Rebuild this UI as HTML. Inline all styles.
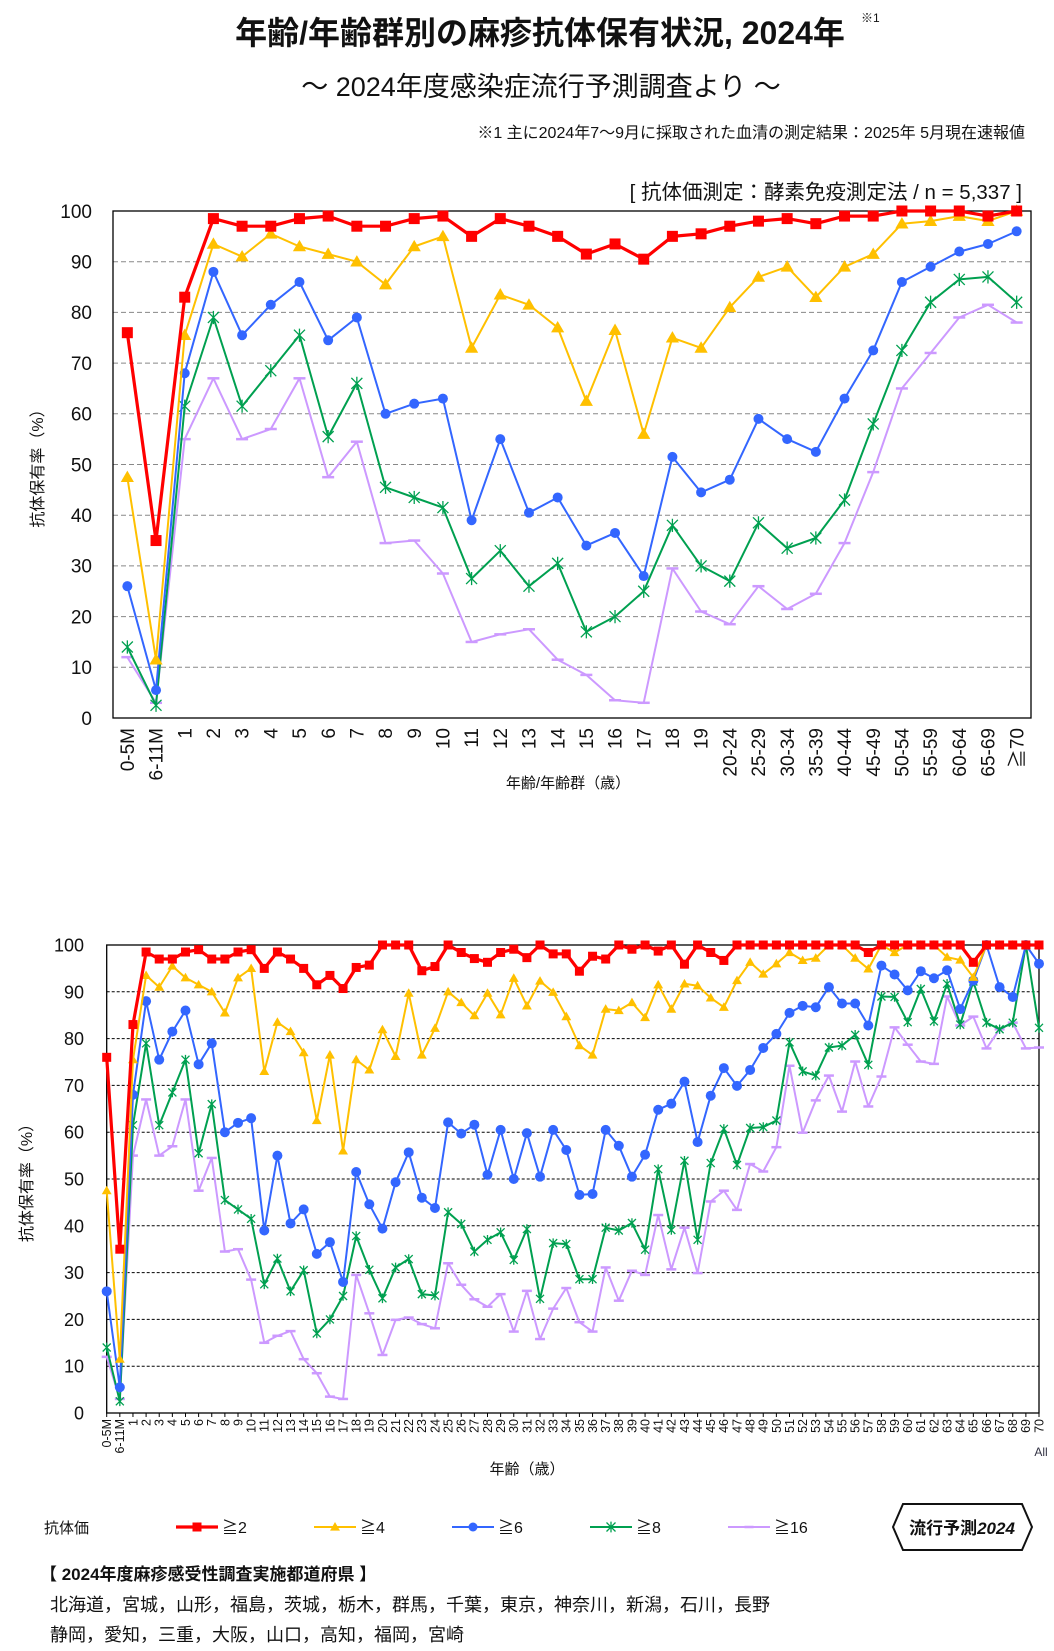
<!DOCTYPE html>
<html><head><meta charset="utf-8"><style>
html,body{margin:0;padding:0;background:#fff}
svg{display:block;font-family:"Liberation Sans","Noto Sans CJK JP",sans-serif}
</style></head><body>
<svg id="s" width="1054" height="1651" viewBox="0 0 1054 1651" xmlns="http://www.w3.org/2000/svg">
<text x="540" y="44" text-anchor="middle" font-size="32" font-weight="bold" fill="#111">年齢/年齢群別の麻疹抗体保有状況, 2024年</text>
<text x="861" y="22" font-size="12" fill="#111">※1</text>
<text x="541" y="96" text-anchor="middle" font-size="27" fill="#111">～ 2024年度感染症流行予測調査より ～</text>
<text x="1025" y="138" text-anchor="end" font-size="16" fill="#111">※1  主に2024年7～9月に採取された血清の測定結果：2025年 5月現在速報値</text>
<text x="1022" y="199" text-anchor="end" font-size="20.5" fill="#111">[ 抗体価測定：酵素免疫測定法 / n = 5,337 ]</text>
<g id="top"></g>
<g id="bot"></g>
<g id="legend">
<text x="44" y="1533" font-size="15" fill="#111">抗体価</text>
</g>
<g>
<polygon points="903,1504 1022,1504 1032,1527 1022,1550 903,1550 893,1527" fill="#fff" stroke="#111" stroke-width="2"/>
<text x="962" y="1534" text-anchor="middle" font-size="17" font-weight="bold" fill="#111">流行予測<tspan font-style="italic">2024</tspan></text>
</g>
<text x="40" y="1580" font-size="17" font-weight="bold" fill="#111">【 2024年度麻疹感受性調査実施都道府県 】</text>
<text x="50" y="1611" font-size="18" fill="#111">北海道，宮城，山形，福島，茨城，栃木，群馬，千葉，東京，神奈川，新潟，石川，長野</text>
<text x="50" y="1641" font-size="18" fill="#111">静岡，愛知，三重，大阪，山口，高知，福岡，宮崎</text>
</svg>
<script>
const topCats=["0-5M","6-11M","1","2","3","4","5","6","7","8","9","10","11","12","13","14","15","16","17","18","19","20-24","25-29","30-34","35-39","40-44","45-49","50-54","55-59","60-64","65-69","≧70"];
const top2=[76,35,83,98.5,97,97,98.5,99,97,97,98.5,99,95,98.5,97,95,91.5,93.5,90.5,95,95.5,97,98,98.5,97.5,99,99,100,100,100,99,100];
const top4=[47.5,11.5,75.5,93.5,91,95.5,93,91.5,90,85.5,93,95,73,83.5,81.5,77,62.5,76.5,56,75,73,81,87,89,83,89,91.5,97.5,98,99,98,100];
const top6=[26,5.5,68,88,75.5,81.5,86,74.5,79,60,62,63,39,55,40.5,43.5,34,36.5,28,51.5,44.5,47,59,55,52.5,63,72.5,86,89,92,93.5,96];
const top8=[14,2.5,61.5,79,61.5,68.5,75.5,55.5,66,45.5,43.5,41.5,27.5,33,26,30.5,17,20,25,38,30,27,38.5,33.5,35.5,43,58,72.5,82,86.5,87,82];
const top16=[12,3,55,67,55,57,67,47.5,54.5,34.5,35,28.5,15,16.5,17.5,11.5,8.5,3.5,3,29.5,21,18.5,26,21.5,24.5,34.5,48.5,65,72,79,81.5,78];
const botCats=["0-5M","6-11M"].concat(Array.from({length:70},(_,i)=>String(i+1)));
const bot2=[76,35,83,98.5,97,97,98.5,99,97,97,98.5,99,95,98.5,97,95,91.5,93.5,90.7,95.2,95.7,100,100,100,94.5,95.4,100,98.4,97.1,96.3,98.4,99.1,97.3,100,98.1,98.1,94.4,97.6,97,100,99.1,100,98.7,100,95.9,100,98.4,96.7,100,100,100,100,100,100,100,100,100,100,98.4,100,100,100,100,100,100,100,96.3,100,100,100,100,100];
const bot4=[47.5,11.5,75.5,93.5,91,95.5,93,91.5,90,85.5,93,95,73,83.5,81.5,77,62.5,76.5,56,75.5,73.3,81.9,76.2,89.7,76.5,82.2,90,87.7,84.9,89.7,85.1,92.9,87,92.3,89.9,84.7,78.5,76.5,86.3,86,87.7,84.5,91.5,86.3,91.7,91.3,88.7,86.7,92.4,96.3,93.8,96,98.4,96.7,97.2,100,100,97.2,94.9,100,98.4,100,100,100,97.4,96.8,93.1,100,100,100,100,100];
const bot6=[26,5.5,68,88,75.5,81.5,86,74.5,79,60,62,63,39,55,40.5,43.5,34,36.5,28,51.5,44.6,39.4,49.3,55.7,46,43.8,62.1,59.7,61.6,50.9,60.5,50,59.8,50.5,60.5,56.2,46.6,46.8,60.5,57.1,50.5,55.2,64.8,66.1,70.8,57.9,67.8,73.7,69.9,73.3,78,81,85.5,87,86.7,91,87.5,87.5,82.8,95.6,93.7,90.3,94.4,92.9,94.6,86.3,92.4,100,91,88.9,100,96];
const bot8=[14,2.5,61.5,79,61.5,68.5,75.5,55.5,66,45.5,43.5,41.5,27.5,33,26,30.5,17,20,25,37.8,30.6,24.5,31.1,32.9,25.4,25.1,42.9,40.4,34.5,37,38.6,32.7,39.3,24.4,36.3,36.1,28.6,28.6,39.6,39,40.6,34.9,52.1,39.1,53.9,37,53.4,60.7,53,60.9,61.1,62.5,79.2,73,72.1,78.1,78.5,80.8,74.4,89,88.9,83.5,90.6,83.7,91.7,83,92.2,83.4,82,83.4,100,82.3];
const bot16=[12,3,55,67,55,57,67,47.5,54.5,34.5,35,28.5,15,16.5,17.5,11.5,8.5,3.5,3,29.5,21.3,12.4,19.9,20.4,19,18.1,32,27.4,24.3,22.7,25.4,17.4,26.1,15.8,22.3,26.7,19.4,17.4,31.1,24,30.4,29.5,42.3,30.7,39.6,29.9,45.2,47.5,43.4,53.2,51.6,56.8,74.2,59.9,66.8,72.1,64.4,75.1,65.5,71.9,82.4,78.7,75.1,74.6,89,82.8,84.7,77.9,82,83.4,77.9,78.1];
const yTicks=[0,10,20,30,40,50,60,70,80,90,100];
const legendLabels=["≧2","≧4","≧6","≧8","≧16"];

const NS="http://www.w3.org/2000/svg";
function mk(tag,attrs,parent){const e=document.createElementNS(NS,tag);for(const k in attrs)e.setAttribute(k,attrs[k]);parent.appendChild(e);return e;}
const colors=["#ff0000","#ffc000","#3366ff","#00a050","#cc99ff"];
const widths=[3.2,2,2,2,2];
function marker(g,k,x,y,s){
  let m;
  if(k===0)m=mk('rect',{x:x-s,y:y-s,width:2*s,height:2*s,fill:colors[0]},g);
  else if(k===1)m=mk('polygon',{points:`${x},${y-s*1.1} ${x+s*1.1},${y+s*0.8} ${x-s*1.1},${y+s*0.8}`,fill:colors[1]},g);
  else if(k===2)m=mk('circle',{cx:x,cy:y,r:s,fill:colors[2]},g);
  else if(k===3)m=mk('path',{d:`M${x-s},${y-s}L${x+s},${y+s}M${x-s},${y+s}L${x+s},${y-s}M${x},${y-s*1.2}L${x},${y+s*1.2}`,stroke:colors[3],'stroke-width':1.3,fill:'none'},g);
  else m=mk('path',{d:`M${x-s},${y}L${x+s},${y}`,stroke:colors[4],'stroke-width':2.5,fill:'none'},g);
  
  
}
function chart(gid,cats,series,o){
  const g=document.getElementById(gid);
  let xs;
  if(o.edge){const st=(o.x1-o.x0)/(cats.length-1);xs=i=>o.x0+st*i;}
  else{const bw=(o.x1-o.x0)/cats.length;xs=i=>o.x0+bw*(i+0.5);}
  const ys=v=>o.y0-(v/100)*(o.y0-o.y1);
  yTicks.forEach(t=>{
    if(t>0&&t<100){const l=mk('line',{x1:o.x0,x2:o.x1,y1:ys(t),y2:ys(t),stroke:o.gridColor,'stroke-width':1,'stroke-dasharray':o.dash},g);
    
    }
    const tx=mk('text',{x:o.tickX,y:ys(t)+o.tickFs*0.36,'text-anchor':'end','font-size':o.tickFs,fill:'#111'},g);
    tx.textContent=t;
    
    
  });
  const fr=mk('rect',{x:o.x0,y:o.y1,width:o.x1-o.x0,height:o.y0-o.y1,fill:'none',stroke:'#000','stroke-width':1.3},g);
  
  
  cats.forEach((c,i)=>{
    if(o.ticks){const tk=mk('line',{x1:xs(i),x2:xs(i),y1:o.y0,y2:o.y0+4,stroke:'#000'},g);
    
    }
    const t=mk('text',{x:0,y:0,'text-anchor':'end','font-size':o.xFs,fill:'#111',transform:`translate(${xs(i)+o.xFs*0.35},${o.y0+o.xPad}) rotate(-90)`},g);
    t.textContent=c;
    
    
  });
  for(let k=series.length-1;k>=0;k--){
    const d=series[k];const sg=mk('g',{},g);
    
    
    const pts=d.map((v,i)=>xs(i).toFixed(1)+','+ys(v).toFixed(1)).join(' ');
    const pl=mk('polyline',{points:pts,fill:'none',stroke:colors[k],'stroke-width':widths[k],'stroke-linejoin':'round'},sg);
    
    
    d.forEach((v,i)=>marker(sg,k,xs(i),ys(v),o.ms[k]));
  }
  const yt=mk('text',{x:0,y:0,'text-anchor':'middle','font-size':o.titleFs,fill:'#111',transform:`translate(${o.yTitleX},${(o.y0+o.y1)/2}) rotate(-90)`},g);
  yt.textContent='抗体保有率（%）';
  
  
  const xt=mk('text',{x:o.xTitleX,y:o.xTitleY,'text-anchor':'middle','font-size':o.titleFs-1,fill:'#111'},g);
  xt.textContent=o.xTitle;
  
  
}
chart('top',topCats,[top2,top4,top6,top8,top16],{x0:113,x1:1031,y0:718,y1:211,gridColor:'#888',dash:'5,3',tickX:92,tickFs:19,xFs:19,xPad:10,ticks:false,edge:false,ms:[5.5,6,5,5.5,6],yTitleX:43,titleFs:16,xTitle:'年齢/年齢群（歳）',xTitleX:568,xTitleY:788});
chart('bot',botCats,[bot2,bot4,bot6,bot8,bot16],{x0:106.7,x1:1039,y0:1413,y1:945,gridColor:'#000',dash:'3,2',tickX:84,tickFs:18,xFs:12.5,xPad:6,ticks:true,edge:true,ms:[4.5,4.5,5,4,5],yTitleX:32,titleFs:16,xTitle:'年齢（歳）',xTitleX:527,xTitleY:1474});
const all=mk('text',{x:1041,y:1456,'text-anchor':'middle','font-size':12,fill:'#334'},document.getElementById('bot'));
all.textContent='All';


const lg=document.getElementById('legend');
const lx=[176,314,452,590,728];
legendLabels.forEach((lab,k)=>{
  const e=mk('g',{},lg);
  
  
  mk('line',{x1:lx[k],x2:lx[k]+42,y1:1527,y2:1527,stroke:colors[k],'stroke-width':widths[k]},e);
  marker(e,k,lx[k]+21,1527,4.5);
  const t=mk('text',{x:lx[k]+46,y:1533,'font-size':16,fill:'#111'},e);
  t.textContent=lab;
});
</script>
</body></html>
